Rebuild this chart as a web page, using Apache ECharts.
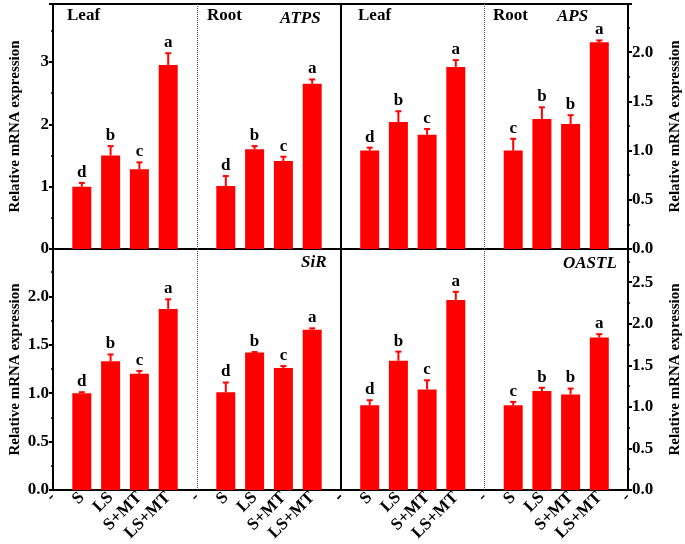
<!DOCTYPE html>
<html>
<head>
<meta charset="utf-8">
<title>Relative mRNA expression</title>
<script src="https://cdn.jsdelivr.net/npm/echarts@6/dist/echarts.min.js"></script>
<style>
  html, body { margin: 0; padding: 0; background: #fff; }
  #chart { width: 685px; height: 544px; }
</style>
</head>
<body>
<div id="chart"></div>
<script>
// x slots: blank, 4 leaf treatments, blank, 4 root treatments, blank
var categories = ['-', 'S', 'LS', 'S+MT', 'LS+MT', '-', 'S', 'LS', 'S+MT', 'LS+MT', '-']

// ATPS
var atpsLeaf = [1.00, 1.50, 1.28, 2.95]
var atpsLeafErr = [0.06, 0.15, 0.11, 0.19]
var atpsRoot = [1.01, 1.60, 1.41, 2.65]
var atpsRootErr = [0.16, 0.05, 0.07, 0.07]
var atpsLetters = ['d', 'b', 'c', 'a', 'd', 'b', 'c', 'a']

// APS
var apsLeaf = [1.00, 1.29, 1.16, 1.85]
var apsLeafErr = [0.03, 0.11, 0.06, 0.07]
var apsRoot = [1.00, 1.32, 1.27, 2.10]
var apsRootErr = [0.12, 0.12, 0.09, 0.02]
var apsLetters = ['d', 'b', 'c', 'a', 'c', 'b', 'b', 'a']

// SiR
var sirLeaf = [1.00, 1.33, 1.20, 1.87]
var sirLeafErr = [0.01, 0.07, 0.03, 0.10]
var sirRoot = [1.01, 1.42, 1.26, 1.655]
var sirRootErr = [0.10, 0.005, 0.02, 0.015]
var sirLetters = ['d', 'b', 'c', 'a', 'd', 'b', 'c', 'a']

// OASTL
var oastlLeaf = [1.02, 1.555, 1.21, 2.285]
var oastlLeafErr = [0.06, 0.11, 0.11, 0.10]
var oastlRoot = [1.02, 1.19, 1.15, 1.835]
var oastlRootErr = [0.04, 0.04, 0.07, 0.04]
var oastlLetters = ['d', 'b', 'c', 'a', 'c', 'b', 'b', 'a']

var serif = '"Liberation Serif", "Times New Roman", serif'
var red = '#ff0000'

// bar values on the 11 slots
function barData (leaf, root) {
  return [null].concat(leaf, [null], root, [null])
}
// [slot, value, err] for the error bars
function errData (leaf, leafErr, root, rootErr) {
  var out = []
  leaf.forEach(function (v, i) { out.push([i + 1, v, leafErr[i]]) })
  root.forEach(function (v, i) { out.push([i + 6, v, rootErr[i]]) })
  return out
}

function errRenderer (letters) {
  return function (params, api) {
    var x = api.value(0)
    var v = api.value(1)
    var e = api.value(2)
    var base = api.coord([x, v])
    var top = api.coord([x, v + e])
    return {
      type: 'group',
      children: [
        { type: 'line', shape: { x1: base[0], y1: base[1], x2: top[0], y2: top[1] }, style: { stroke: red, lineWidth: 2 } },
        { type: 'line', shape: { x1: top[0] - 3, y1: top[1], x2: top[0] + 3, y2: top[1] }, style: { stroke: red, lineWidth: 2 } },
        {
          type: 'text',
          x: top[0],
          y: top[1] - 2,
          style: {
            text: letters[params.dataIndex],
            align: 'center',
            verticalAlign: 'bottom',
            fontSize: 17,
            fontWeight: 'bold',
            fontFamily: serif,
            fill: '#000'
          }
        }
      ]
    }
  }
}

var panels = [
  { leaf: atpsLeaf, leafErr: atpsLeafErr, root: atpsRoot, rootErr: atpsRootErr, letters: atpsLetters, max: 3.93, interval: 1, side: 'left', bottom: false },
  { leaf: apsLeaf, leafErr: apsLeafErr, root: apsRoot, rootErr: apsRootErr, letters: apsLetters, max: 2.49, interval: 0.5, side: 'right', bottom: false },
  { leaf: sirLeaf, leafErr: sirLeafErr, root: sirRoot, rootErr: sirRootErr, letters: sirLetters, max: 2.49, interval: 0.5, side: 'left', bottom: true },
  { leaf: oastlLeaf, leafErr: oastlLeafErr, root: oastlRoot, rootErr: oastlRootErr, letters: oastlLetters, max: 2.9, interval: 0.5, side: 'right', bottom: true }
]

var grids = [
  { left: 53, top: 4, width: 288, height: 245 },
  { left: 341, top: 4, width: 287, height: 245 },
  { left: 53, top: 249, width: 288, height: 244 },
  { left: 341, top: 249, width: 287, height: 244 }
]

var xAxes = []
var yAxes = []
var series = []

panels.forEach(function (p, i) {
  grids[i].show = true
  grids[i].borderColor = '#000'
  grids[i].borderWidth = 2

  xAxes.push({
    gridIndex: i,
    type: 'category',
    data: categories,
    boundaryGap: false,
    axisLine: { lineStyle: { color: '#000', width: 2 } },
    axisTick: { show: false },
    axisLabel: {
      show: p.bottom,
      interval: 0,
      rotate: 45,
      margin: 5,
      color: '#000',
      fontSize: 17,
      fontWeight: 'bold',
      fontFamily: serif
    }
  })

  yAxes.push({
    gridIndex: i,
    type: 'value',
    position: p.side,
    min: 0,
    max: p.max,
    interval: p.interval,
    name: 'Relative mRNA expression',
    nameLocation: 'middle',
    nameGap: p.side === 'left' ? 30 : 40,
    nameTextStyle: { color: '#000', fontSize: 15, fontWeight: 'bold', fontFamily: serif },
    axisLine: { show: true, lineStyle: { color: '#000', width: 2 } },
    axisTick: { show: true, length: 4, lineStyle: { color: '#000', width: 2 } },
    minorTick: { show: true, splitNumber: 2, length: 2, lineStyle: { color: '#000', width: 1.5 } },
    splitLine: { show: false },
    axisLabel: {
      showMaxLabel: false,
      margin: 4,
      color: '#000',
      fontSize: 17,
      fontWeight: 'bold',
      fontFamily: serif,
      formatter: function (v) {
        if (Math.abs(v / p.interval - Math.round(v / p.interval)) > 1e-6) return ''
        return p.interval === 1 ? String(v) : v.toFixed(1)
      }
    }
  })

  series.push({
    type: 'bar',
    xAxisIndex: i,
    yAxisIndex: i,
    data: barData(p.leaf, p.root),
    barWidth: 19,
    itemStyle: { color: red },
    markLine: {
      silent: true,
      symbol: 'none',
      label: { show: false },
      lineStyle: { color: '#444', width: 1, type: 'dotted' },
      data: [{ xAxis: 5 }]
    }
  })

  series.push({
    type: 'custom',
    xAxisIndex: i,
    yAxisIndex: i,
    data: errData(p.leaf, p.leafErr, p.root, p.rootErr),
    renderItem: errRenderer(p.letters),
    clip: false,
    z: 3
  })
})

function label (text, x, y, italic) {
  return {
    type: 'text',
    x: x,
    y: y,
    style: {
      text: text,
      verticalAlign: 'middle',
      fontSize: 17,
      fontWeight: 'bold',
      fontStyle: italic ? 'italic' : 'normal',
      fontFamily: serif,
      fill: '#000'
    }
  }
}

var myChart = echarts.init(document.getElementById('chart'))
myChart.setOption({
  animation: false,
  grid: grids,
  xAxis: xAxes,
  yAxis: yAxes,
  series: series,
  graphic: [
    label('Leaf', 67, 16),
    label('Root', 207, 16),
    label('ATPS', 280, 19, true),
    label('Leaf', 358, 16),
    label('Root', 493, 16),
    label('APS', 557, 17, true),
    label('SiR', 301, 263, true),
    label('OASTL', 563, 264, true)
  ]
})
</script>
</body>
</html>
